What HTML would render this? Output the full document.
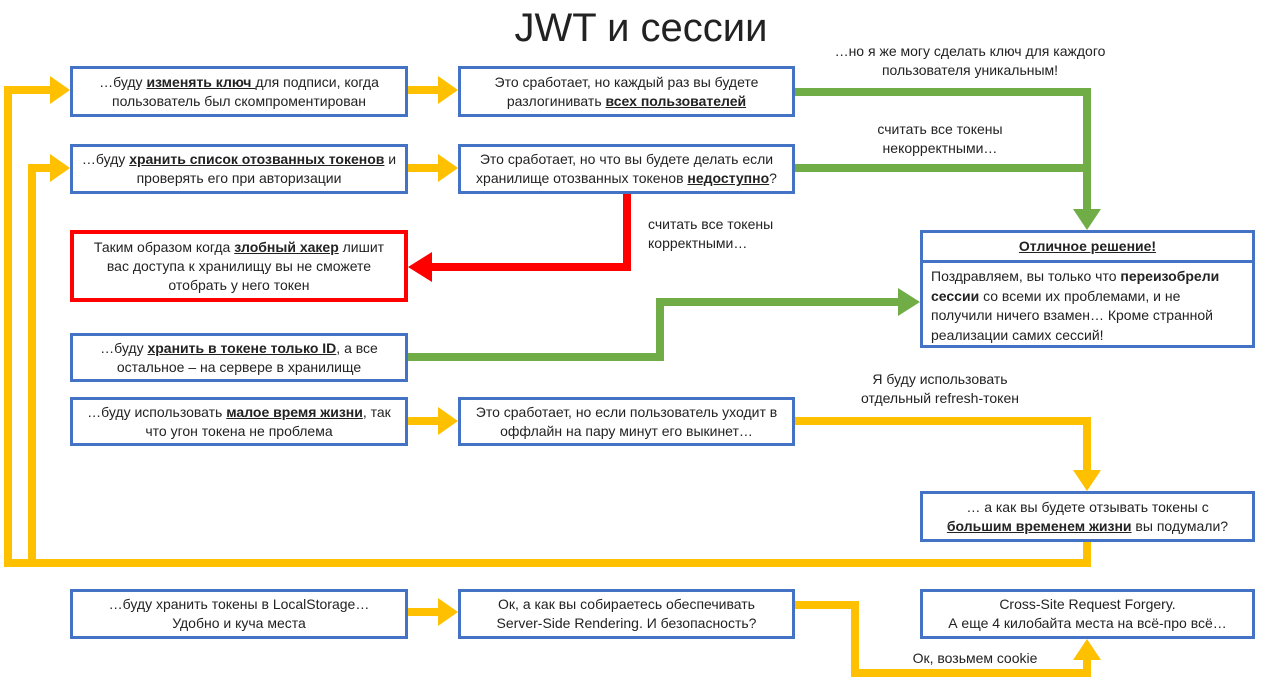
<!DOCTYPE html>
<html><head><meta charset="utf-8"><style>
body{margin:0;width:1266px;height:693px;background:#fff;position:relative;overflow:hidden;font-family:"Liberation Sans","DejaVu Sans",sans-serif;color:#222}
.b{position:absolute;box-sizing:border-box;border:3px solid #4472C4;background:#fff;display:flex;align-items:center;justify-content:center;text-align:center;font-size:14px;line-height:19px;padding:0 12px}
.l{position:absolute;font-size:14px;line-height:19px;text-align:center;color:#222}
svg{position:absolute;left:0;top:0}
</style></head><body>
<svg width="1266" height="693">
<g fill="none" stroke-width="8" stroke-linejoin="miter">
<polyline stroke="#FFC000" points="1087,542 1087,563 8,563 8,90 52,90"/>
<polyline stroke="#FFC000" points="32,563 32,168 52,168"/>
<line stroke="#FFC000" x1="408" y1="90" x2="440" y2="90"/>
<line stroke="#FFC000" x1="408" y1="168" x2="440" y2="168"/>
<line stroke="#FFC000" x1="408" y1="421" x2="440" y2="421"/>
<line stroke="#FFC000" x1="408" y1="612" x2="440" y2="612"/>
<polyline stroke="#FFC000" points="795,421 1087,421 1087,472"/>
<polyline stroke="#FFC000" points="795,605 855,605 855,673 1087,673 1087,658"/>
<polyline stroke="#70AD47" points="795,92 1087,92 1087,212"/>
<polyline stroke="#70AD47" points="795,168 1087,168"/>
<polyline stroke="#70AD47" points="408,357 660,357 660,302 900,302"/>
<polyline stroke="#FF0000" points="627,194 627,267 428,267"/>
</g>
<g>
<polygon fill="#FFC000" points="50,76 70,90 50,104"/>
<polygon fill="#FFC000" points="50,154 70,168 50,182"/>
<polygon fill="#FFC000" points="438,76 458,90 438,104"/>
<polygon fill="#FFC000" points="438,154 458,168 438,182"/>
<polygon fill="#FFC000" points="438,407 458,421 438,435"/>
<polygon fill="#FFC000" points="438,598 458,612 438,626"/>
<polygon fill="#FFC000" points="1073,470 1087,491 1101,470"/>
<polygon fill="#FFC000" points="1073,660 1087,639 1101,660"/>
<polygon fill="#70AD47" points="1073,209 1087,230 1101,209"/>
<polygon fill="#70AD47" points="898,288 920,302 898,316"/>
<polygon fill="#FF0000" points="432,252 408,267 432,282"/>
</g>
</svg>
<div class="l" style="left:0;width:1282px;top:4px;font-size:40px;line-height:48px">JWT и сессии</div>
<div class="b" style="left:70px;top:66px;width:338px;height:51px"><span>…буду <b><u>изменять ключ </u></b>для подписи, когда<br>пользователь был скомпроментирован</span></div>
<div class="b" style="left:458px;top:66px;width:337px;height:51px"><span>Это сработает, но каждый раз вы будете<br>разлогинивать <b><u>всех пользователей</u></b></span></div>
<div class="b" style="left:70px;top:144px;width:338px;height:50px;padding:0 6px"><span>…буду <b><u>хранить список отозванных токенов</u></b> и<br>проверять его при авторизации</span></div>
<div class="b" style="left:458px;top:144px;width:337px;height:50px;padding:0 6px"><span>Это сработает, но что вы будете делать если<br>хранилище отозванных токенов <b><u>недоступно</u></b>?</span></div>
<div class="b" style="left:70px;top:230px;width:338px;height:72px;border:4px solid #FF0000"><span>Таким образом когда <b><u>злобный хакер</u></b> лишит<br>вас доступа к хранилищу вы не сможете<br>отобрать у него токен</span></div>
<div class="b" style="left:920px;top:230px;width:335px;height:118px;display:block;padding:0">
<div style="border-bottom:3px solid #4472C4;height:27px;line-height:27px"><b><u>Отличное решение!</u></b></div>
<div style="padding:4px 8px;text-align:left;line-height:19.5px">Поздравляем, вы только что <b>переизобрели сессии</b> со всеми их проблемами, и не получили ничего взамен… Кроме странной реализации самих сессий!</div></div>
<div class="b" style="left:70px;top:333px;width:338px;height:49px"><span>…буду <b><u>хранить в токене только ID</u></b>, а все<br>остальное – на сервере в хранилище</span></div>
<div class="b" style="left:70px;top:397px;width:338px;height:49px"><span>…буду использовать <b><u>малое время жизни</u></b>, так<br>что угон токена не проблема</span></div>
<div class="b" style="left:458px;top:397px;width:337px;height:49px"><span>Это сработает, но если пользователь уходит в<br>оффлайн на пару минут его выкинет…</span></div>
<div class="b" style="left:920px;top:491px;width:335px;height:51px"><span>… а как вы будете отзывать токены с<br><b><u>большим временем жизни</u></b> вы подумали?</span></div>
<div class="b" style="left:70px;top:589px;width:338px;height:50px"><span>…буду хранить токены в LocalStorage…<br>Удобно и куча места</span></div>
<div class="b" style="left:458px;top:589px;width:337px;height:50px"><span>Ок, а как вы собираетесь обеспечивать<br>Server-Side Rendering. И безопасность?</span></div>
<div class="b" style="left:920px;top:589px;width:335px;height:50px"><span>Cross-Site Request Forgery.<br>А еще 4 килобайта места на всё-про всё…</span></div>
<div class="l" style="left:820px;width:300px;top:42px">…но я же могу сделать ключ для каждого<br>пользователя уникальным!</div>
<div class="l" style="left:870px;width:140px;top:120px">считать все токены<br>некорректными…</div>
<div class="l" style="left:648px;width:150px;top:215px;text-align:left">считать все токены<br>корректными…</div>
<div class="l" style="left:830px;width:220px;top:370px">Я буду использовать<br>отдельный refresh-токен</div>
<div class="l" style="left:900px;width:150px;top:649px">Ок, возьмем cookie</div>
</body></html>
